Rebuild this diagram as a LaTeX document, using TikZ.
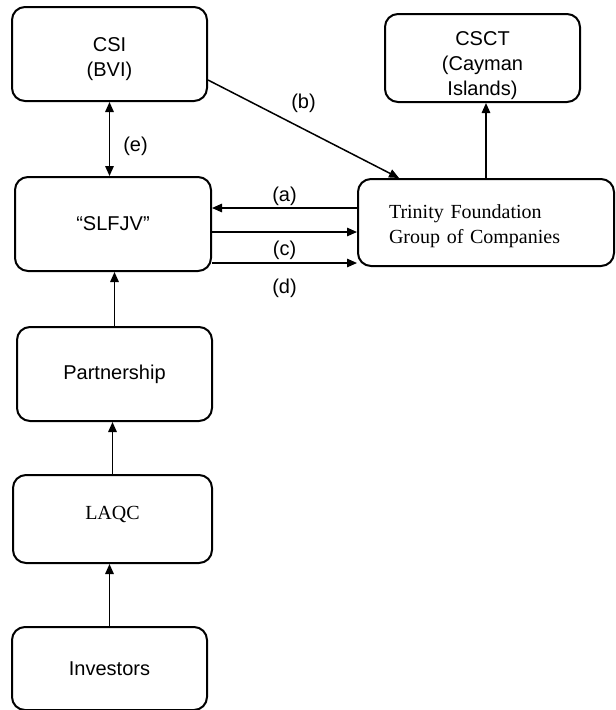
\documentclass[tikz,border=0pt]{standalone}
\usepackage{fontspec}
\setmainfont{Liberation Sans}
\newfontfamily\timesfont{Liberation Serif}
\usetikzlibrary{arrows.meta}
\tikzstyle{entity}=[draw,line width=2pt,rounded corners=13pt,minimum width=195pt,minimum height=94pt,align=center,inner sep=0pt,font=\fontsize{20}{25}\selectfont]
\tikzstyle{serifentity}=[entity,font=\timesfont\fontsize{20}{25}\selectfont]
\tikzstyle{flow}=[-{Triangle[length=10pt,width=8.5pt]},line width=1.5pt]
\tikzstyle{bothflow}=[{Triangle[length=10pt,width=8.5pt]}-{Triangle[length=10pt,width=8.5pt]},line width=1.5pt]
\tikzstyle{flowlabel}=[inner sep=0pt,font=\fontsize{20}{24}\selectfont]
\newcommand{\dropline}[1]{\rule{0pt}{#1}}

\begin{document}
\begin{tikzpicture}[x=1pt,y=-1pt]
  \useasboundingbox (0,0) rectangle (616,710);
  % entities
  \node[entity] (csi) at (109.5,54) {\dropline{25pt}CSI\\(BVI)};
  \node[entity,minimum height=88pt] (csct) at (482.5,58) {\dropline{28.5pt}CSCT\\(Cayman\\Islands)};
  \node[entity,minimum width=196pt] (slfjv) at (113,224) {“SLFJV”};
  \node[serifentity,minimum width=256pt,minimum height=87pt,align=left,text width=194pt,inner xsep=31pt] (trinity) at (486,222.5) {\dropline{21.5pt}Trinity Foundation\\Group of Companies};
  \node[entity] (partnership) at (114.5,374) {Partnership};
  \node[serifentity,minimum width=199pt,minimum height=88pt,text depth=12pt] (laqc) at (112.5,519) {LAQC};
  \node[entity,minimum height=83pt] (investors) at (109.5,668.5) {Investors};
  % flows
  \draw[bothflow] (csi.south) -- (csi.south |- slfjv.north) node[flowlabel,pos=0.6,right=13pt] {(e)};
  \draw[flow] (csi.east |- 0,80) -- (trinity.north -| 399,0) node[flowlabel,midway,above=16pt] {(b)};
  \draw[flow] (trinity.north) -- (trinity.north |- csct.south);
  \draw[flow] (trinity.west |- 0,208) -- (slfjv.east |- 0,208) node[flowlabel,midway,above=2pt] {(a)}; %a
  \draw[flow] (slfjv.east |- 0,232) -- (trinity.west |- 0,232) node[flowlabel,midway,below=8pt] {(c)}; %c
  \draw[flow] (slfjv.east |- 0,263) -- (trinity.west |- 0,263) node[flowlabel,midway,below=15pt] {(d)}; %d
  \draw[flow] (partnership.north) -- (slfjv.south -| partnership.north);
  \draw[flow] (laqc.north) -- (partnership.south -| laqc.north);
  \draw[flow] (investors.north) -- (laqc.south -| investors.north);
\end{tikzpicture}
\end{document}
